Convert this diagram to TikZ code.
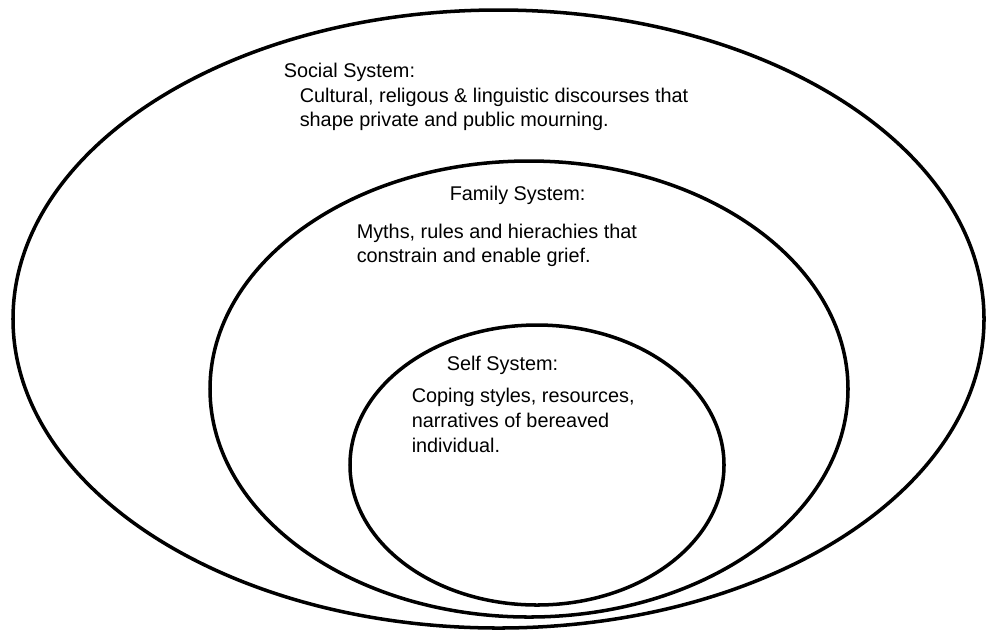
\documentclass[tikz,border=0pt]{standalone}
\usepackage{fontspec}
\setmainfont{Liberation Sans}
\usepackage{tikz}

\begin{document}
\begin{tikzpicture}[x=0.02cm,y=-0.02cm,line width=2pt]
\tikzstyle{every node}+=[inner sep=0pt,anchor=base west,font=\fontsize{11.3}{13}\selectfont]
\useasboundingbox (0,0) rectangle (986,630);
% the three systems
\draw [black] (498.5,319) ellipse (485.5 and 309);
\draw [black] (529,389) ellipse (319 and 228);
\draw [black] (537,465) ellipse (187 and 140);
% social system
\draw (282,77) node (social) {Social System:};
\draw (298,102) node (social1) {Cultural, religous \& linguistic discourses that};
\draw (298,126) node (social2) {shape private and public mourning.};
% family system
\draw (448,200) node (family) {Family System:};
\draw (355,238) node (family1) {Myths, rules and hierachies that};
\draw (355,262) node (family2) {constrain and enable grief.};
% self system
\draw (445,370) node (self) {Self System:};
\draw (410,402) node (self1) {Coping styles, resources,};
\draw (410,427) node (self2) {narratives of bereaved};
\draw (410,452) node (self3) {individual.};
\end{tikzpicture}
\end{document}
